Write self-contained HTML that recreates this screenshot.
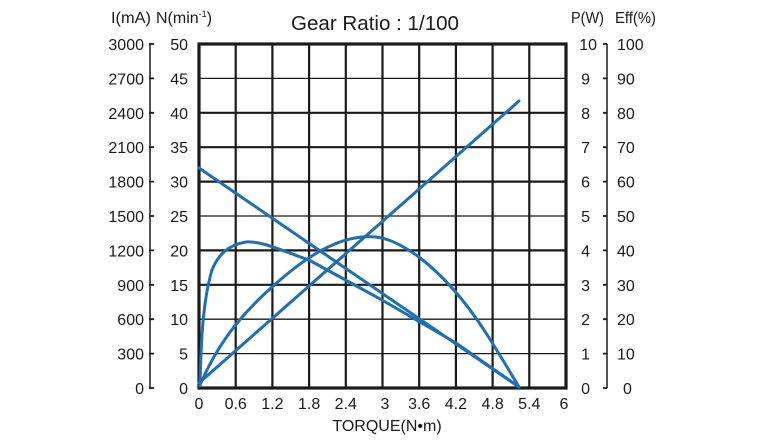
<!DOCTYPE html>
<html><head><style>
html,body{margin:0;padding:0;background:#fff;}
svg{display:block;font-family:"Liberation Sans",sans-serif;}
</style></head><body>
<svg width="776" height="447" viewBox="0 0 776 447">
<g stroke="#1a1a1a" fill="none">
<g stroke-width="2.2">
<line x1="235.7" y1="44" x2="235.7" y2="388"/><line x1="272.4" y1="44" x2="272.4" y2="388"/>
<line x1="309.1" y1="44" x2="309.1" y2="388"/><line x1="345.8" y1="44" x2="345.8" y2="388"/>
<line x1="382.5" y1="44" x2="382.5" y2="388"/><line x1="419.2" y1="44" x2="419.2" y2="388"/>
<line x1="455.9" y1="44" x2="455.9" y2="388"/><line x1="492.6" y1="44" x2="492.6" y2="388"/>
<line x1="529.3" y1="44" x2="529.3" y2="388"/>
</g>
<g stroke-width="1.3">
<line x1="199" y1="78.4" x2="566" y2="78.4"/><line x1="199" y1="216" x2="566" y2="216"/>
<line x1="199" y1="319.2" x2="566" y2="319.2"/><line x1="199" y1="353.6" x2="566" y2="353.6"/>
</g>
<g stroke-width="2.2">
<line x1="199" y1="112.8" x2="566" y2="112.8"/><line x1="199" y1="147.2" x2="566" y2="147.2"/>
<line x1="199" y1="181.6" x2="566" y2="181.6"/><line x1="199" y1="250.4" x2="566" y2="250.4"/>
<line x1="199" y1="284.8" x2="566" y2="284.8"/>
</g>
<rect x="199" y="44" width="367" height="344" stroke-width="3.2"/>
<line x1="150" y1="44" x2="150" y2="388" stroke-width="1.5"/>
<line x1="607" y1="44" x2="607" y2="388" stroke-width="1.5"/>
<path stroke-width="1.8" d="M149 44h5M149 78.4h5M149 112.8h5M149 147.2h5M149 181.6h5M149 216h5M149 250.4h5M149 284.8h5M149 319.2h5M149 353.6h5M149 388h5
M603 44h4M603 78.4h4M603 112.8h4M603 147.2h4M603 181.6h4M603 216h4M603 250.4h4M603 284.8h4M603 319.2h4M603 353.6h4M603 388h4"/>
</g>
<g stroke="#1f6fb5" stroke-width="3" fill="none" stroke-linecap="round" stroke-linejoin="round">
<line x1="199" y1="168" x2="519" y2="387"/>
<line x1="199" y1="383" x2="519" y2="101"/>
<path d="M200,386 C201,340 203,300 212,270 C218,255 228,245 246,242 C262,241 280,250 309,260 L382,300 L456,343 L519,387"/>
<path d="M200,385 C215,350 235,320 272,287 C300,262 330,240 362,237 C380,235 395,240 419,257 C445,277 468,305 486,333 C500,355 510,372 519,387"/>
</g>
<g font-size="16" fill="#1a1a1a" transform="scale(1,1)">
<text x="375" y="30" font-size="20" text-anchor="middle" textLength="168" lengthAdjust="spacingAndGlyphs">Gear Ratio : 1/100</text>
<text x="111" y="23" textLength="40" lengthAdjust="spacingAndGlyphs">I(mA)</text>
<text x="156" y="23">N(min<tspan font-size="9" dy="-6">-1</tspan><tspan dy="6">)</tspan></text>
<text x="571" y="23" textLength="33" lengthAdjust="spacingAndGlyphs">P(W)</text>
<text x="615" y="23" textLength="41" lengthAdjust="spacingAndGlyphs">Eff(%)</text>
<g text-anchor="end">
<text x="144" y="50">3000</text><text x="144" y="84.4">2700</text><text x="144" y="118.8">2400</text>
<text x="144" y="153.2">2100</text><text x="144" y="187.6">1800</text><text x="144" y="222">1500</text>
<text x="144" y="256.4">1200</text><text x="144" y="290.8">900</text><text x="144" y="325.2">600</text>
<text x="144" y="359.6">300</text><text x="144" y="394">0</text>
<text x="188" y="50">50</text><text x="188" y="84.4">45</text><text x="188" y="118.8">40</text>
<text x="188" y="153.2">35</text><text x="188" y="187.6">30</text><text x="188" y="222">25</text>
<text x="188" y="256.4">20</text><text x="188" y="290.8">15</text><text x="188" y="325.2">10</text>
<text x="188" y="359.6">5</text><text x="188" y="394">0</text>
<text x="597" y="50">10</text><text x="590" y="84.4">9</text><text x="590" y="118.8">8</text>
<text x="590" y="153.2">7</text><text x="590" y="187.6">6</text><text x="590" y="222">5</text>
<text x="590" y="256.4">4</text><text x="590" y="290.8">3</text><text x="590" y="325.2">2</text>
<text x="590" y="359.6">1</text><text x="590" y="394">0</text>
</g>
<g text-anchor="start">
<text x="617" y="50">100</text><text x="617" y="84.4">90</text><text x="617" y="118.8">80</text>
<text x="617" y="153.2">70</text><text x="617" y="187.6">60</text><text x="617" y="222">50</text>
<text x="617" y="256.4">40</text><text x="617" y="290.8">30</text><text x="617" y="325.2">20</text>
<text x="617" y="359.6">10</text><text x="623" y="394">0</text>
</g>
<g text-anchor="middle">
<text x="199" y="409">0</text><text x="235.7" y="409">0.6</text><text x="272.4" y="409">1.2</text>
<text x="309.1" y="409">1.8</text><text x="345.8" y="409">2.4</text><text x="385" y="409">3</text>
<text x="419.2" y="409">3.6</text><text x="455.9" y="409">4.2</text><text x="492.6" y="409">4.8</text>
<text x="529.3" y="409">5.4</text><text x="564" y="409">6</text>
<text x="387" y="431">TORQUE(N•m)</text>
</g>
</g>
</svg>
</body></html>
